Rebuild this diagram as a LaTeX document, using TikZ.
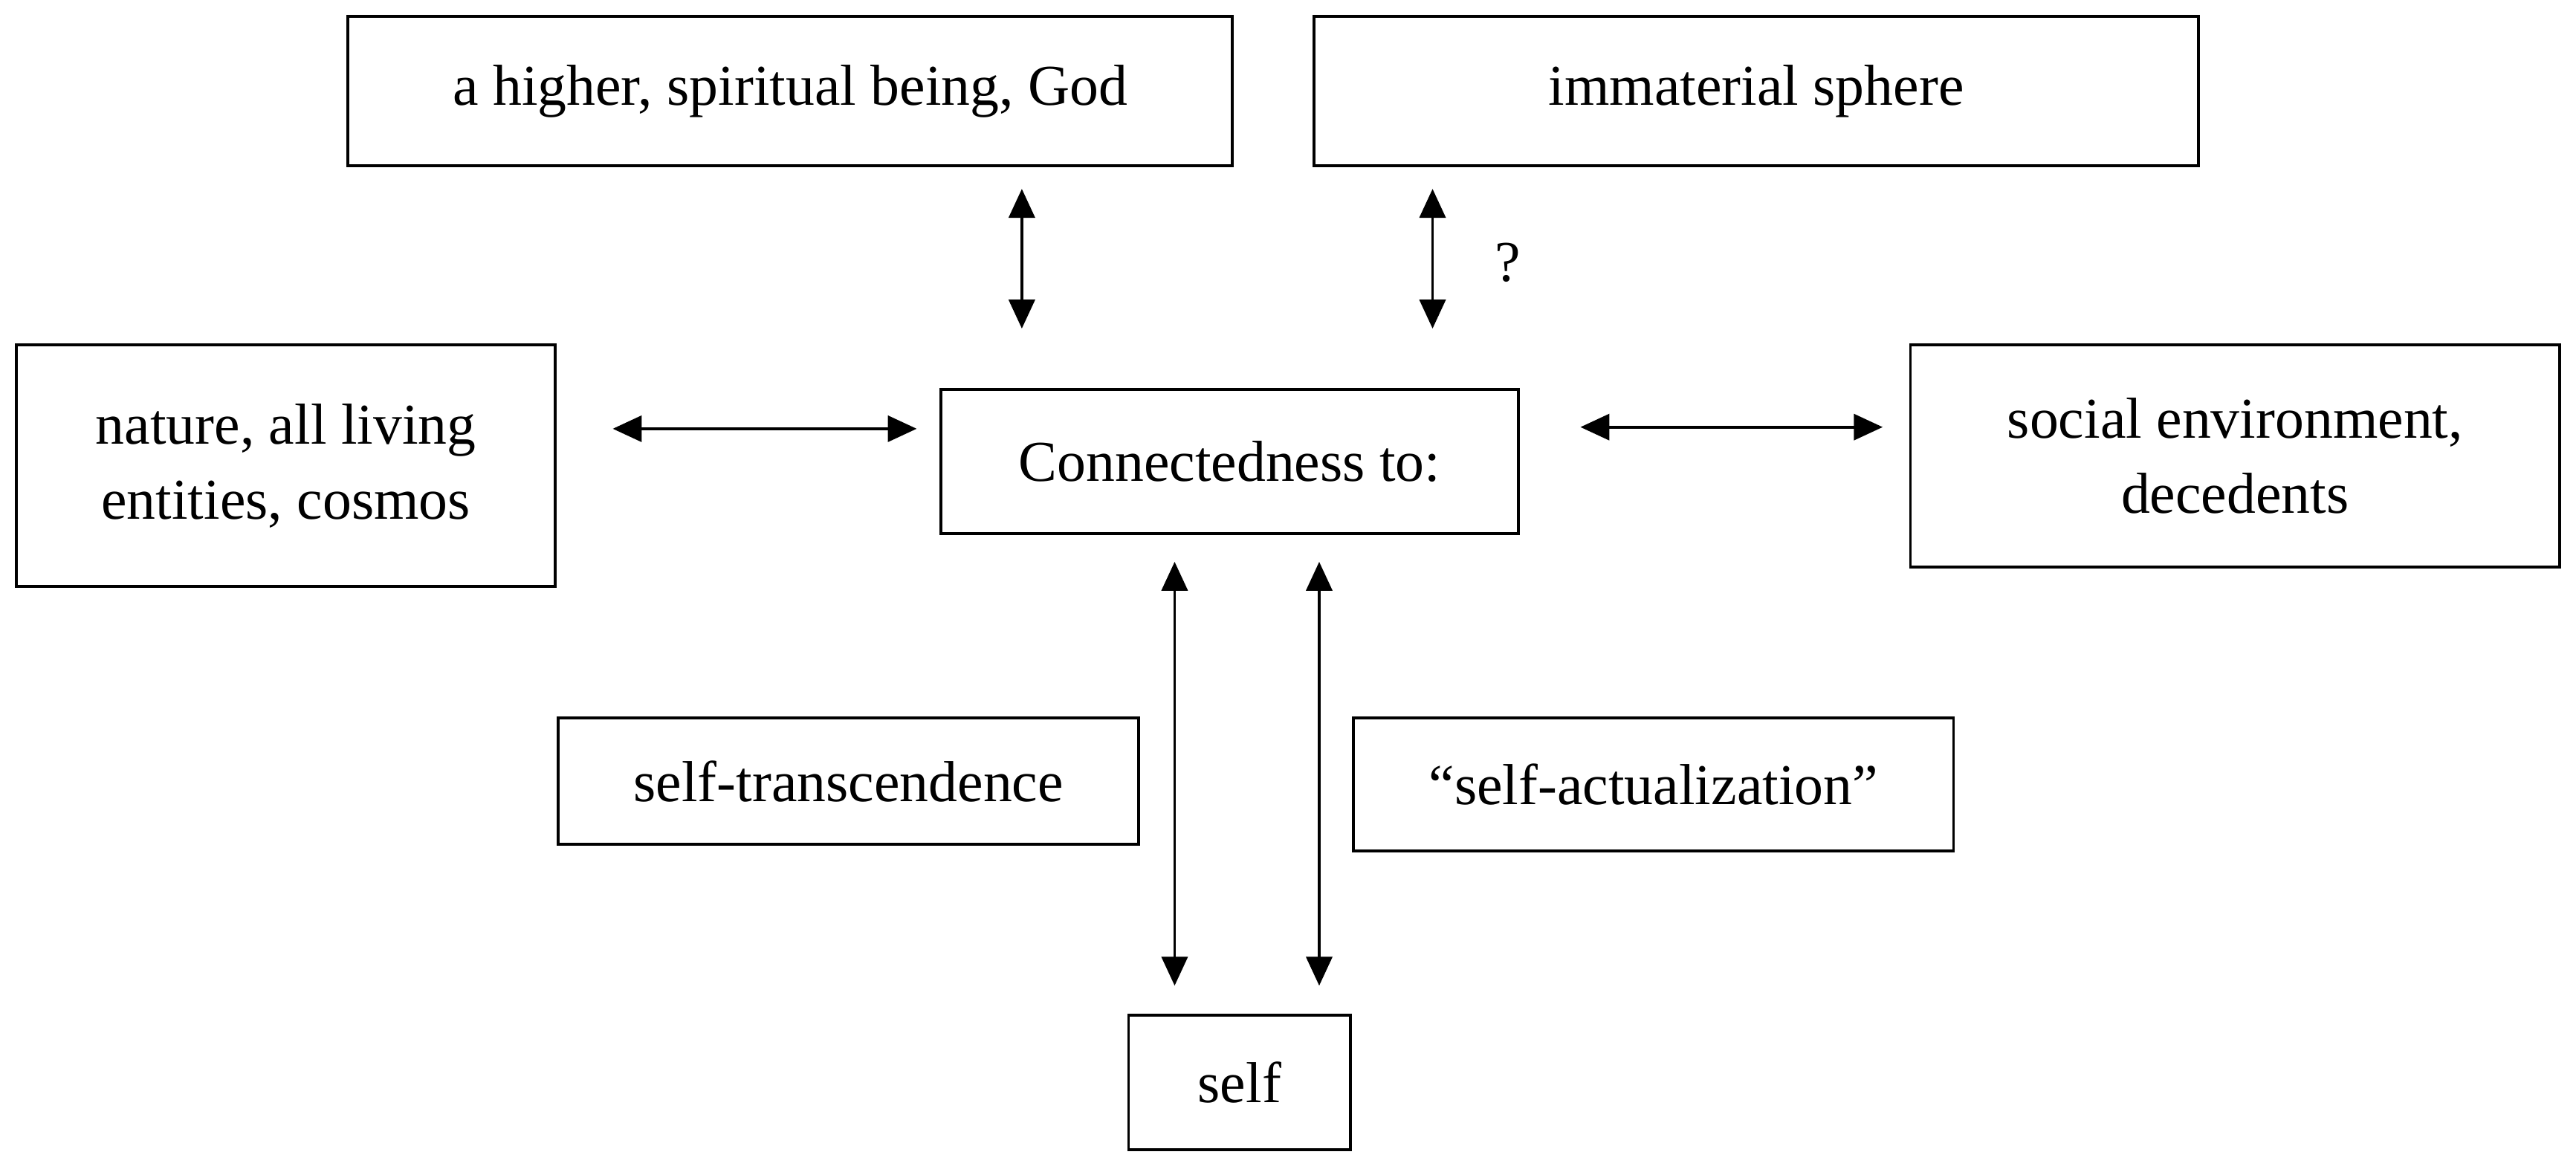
\documentclass[tikz,border=0pt]{standalone}
\usepackage{fontspec}
\setmainfont{Liberation Serif}
\usetikzlibrary{arrows.meta}
\begin{document}
\begin{tikzpicture}[x=0.01cm,y=-0.01cm,
  box/.style={draw,line width=0.5pt,inner sep=0pt,align=center,font=\fontsize{10pt}{13pt}\selectfont},
  dbl/.style={line width=0.5pt,{Triangle[length=5pt,width=4.5pt]}-{Triangle[length=5pt,width=4.5pt]}}]
\useasboundingbox (0,0) rectangle (1568,713);
\node[box,minimum width=538\pgflinewidth*0+5.38cm,minimum height=0.91cm] (god) at (481,55.5) {a higher, spiritual being, God};
\node[box,minimum width=5.38cm,minimum height=0.91cm] (imm) at (1069,55.5) {immaterial sphere};
\node[box,minimum width=3.28cm,minimum height=1.47cm] (nat) at (174,283.5) {nature, all living\\entities, cosmos};
\node[box,minimum width=3.51cm,minimum height=0.88cm] (con) at (748.5,281) {Connectedness to:};
\node[box,minimum width=3.95cm,minimum height=1.35cm] (soc) at (1360.5,277.5) {social environment,\\decedents};
\node[box,minimum width=3.53cm,minimum height=0.77cm] (tra) at (516.5,475.5) {self-transcendence};
\node[box,minimum width=3.65cm,minimum height=0.81cm] (act) at (1006.5,477.5) {“self-actualization”};
\node[box,minimum width=1.35cm,minimum height=0.82cm] (self) at (754.5,659) {self};
\coordinate (a1) at (622,115); \coordinate (a2) at (622,200);
\coordinate (b1) at (872,115); \coordinate (b2) at (872,200);
\coordinate (c1) at (373,261); \coordinate (c2) at (558,261);
\coordinate (d1) at (962,260); \coordinate (d2) at (1146,260);
\coordinate (e1) at (715,342); \coordinate (e2) at (715,600);
\coordinate (f1) at (803,342); \coordinate (f2) at (803,600);
\draw[dbl] (a1) -- (a2);
\draw[dbl] (b1) -- (b2);
\draw[dbl] (c1) -- (c2);
\draw[dbl] (d1) -- (d2);
\draw[dbl] (e1) -- (e2);
\draw[dbl] (f1) -- (f2);
\node[font=\fontsize{10pt}{13pt}\selectfont] (q) at (918,160) {?};
\end{tikzpicture}
\end{document}
